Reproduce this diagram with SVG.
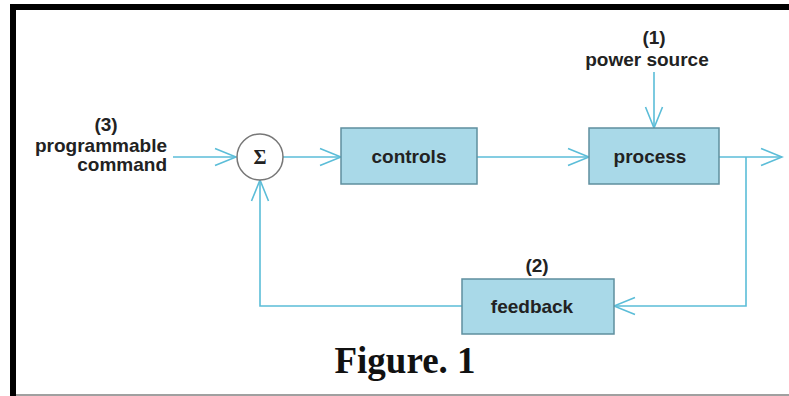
<svg xmlns="http://www.w3.org/2000/svg" width="789" height="396" viewBox="0 0 789 396">
<style>
.lbl{font-family:"Liberation Sans",Arial,sans-serif;font-weight:bold;font-size:19px;fill:#222}
.box{fill:#a9d9e8;stroke:#5f8f9e;stroke-width:1.5}
.wire{fill:none;stroke:#5bbdd8;stroke-width:1.6}
.cap{font-family:"Liberation Serif","Times New Roman",serif;font-weight:bold;font-size:37px;fill:#111}
</style>
<defs>
<marker id="arr" viewBox="-23 -11 25 22" refX="0" refY="0" markerWidth="25" markerHeight="22" markerUnits="userSpaceOnUse" orient="auto">
<path d="M-21,-8.5 L0,0 L-21,8.5" fill="none" stroke="#5bbdd8" stroke-width="1.6"/>
</marker>
</defs>
<rect x="0" y="0" width="789" height="396" fill="#ffffff"/>
<g id="frame">
<line x1="10" y1="7" x2="789" y2="7" stroke="#000" stroke-width="6"/>
<line x1="13" y1="4" x2="13" y2="396" stroke="#000" stroke-width="6"/>
<line x1="16" y1="395" x2="789" y2="395" stroke="#a0a0a0" stroke-width="2"/>
</g>
<g id="connectors">
<path class="wire" d="M173,157 H236" marker-end="url(#arr)"/>
<path class="wire" d="M283,157 H341" marker-end="url(#arr)"/>
<path class="wire" d="M477,157 H589" marker-end="url(#arr)"/>
<path class="wire" d="M719,157 H782" marker-end="url(#arr)"/>
<path class="wire" d="M654,72 V128" marker-end="url(#arr)"/>
<path class="wire" d="M746,157 V306 H614" marker-end="url(#arr)"/>
<path class="wire" d="M462,306 H260 V180" marker-end="url(#arr)"/>
</g>
<g id="command">
<text class="lbl" x="106" y="131" text-anchor="middle">(3)</text>
<text class="lbl" x="167" y="152" text-anchor="end">programmable</text>
<text class="lbl" x="167" y="171" text-anchor="end">command</text>
</g>
<g id="sum">
<circle cx="260" cy="157" r="23" fill="#fff" stroke="#777" stroke-width="1.5"/>
<text x="260" y="164" text-anchor="middle" font-family="Liberation Serif,serif" font-weight="bold" font-size="20" fill="#222">Σ</text>
</g>
<g id="controls">
<rect class="box" x="341" y="128" width="136" height="56"/>
<text class="lbl" x="409" y="163" text-anchor="middle">controls</text>
</g>
<g id="process">
<rect class="box" x="589" y="128" width="130" height="56"/>
<text class="lbl" x="650" y="163" text-anchor="middle">process</text>
</g>
<g id="power">
<text class="lbl" x="654" y="44" text-anchor="middle">(1)</text>
<text class="lbl" x="647" y="66" text-anchor="middle">power source</text>
</g>
<g id="feedback">
<text class="lbl" x="537" y="272" text-anchor="middle">(2)</text>
<rect class="box" x="462" y="279" width="152" height="55"/>
<text class="lbl" x="532" y="313" text-anchor="middle">feedback</text>
</g>
<text class="cap" x="405" y="373" text-anchor="middle">Figure. 1</text>
</svg>
